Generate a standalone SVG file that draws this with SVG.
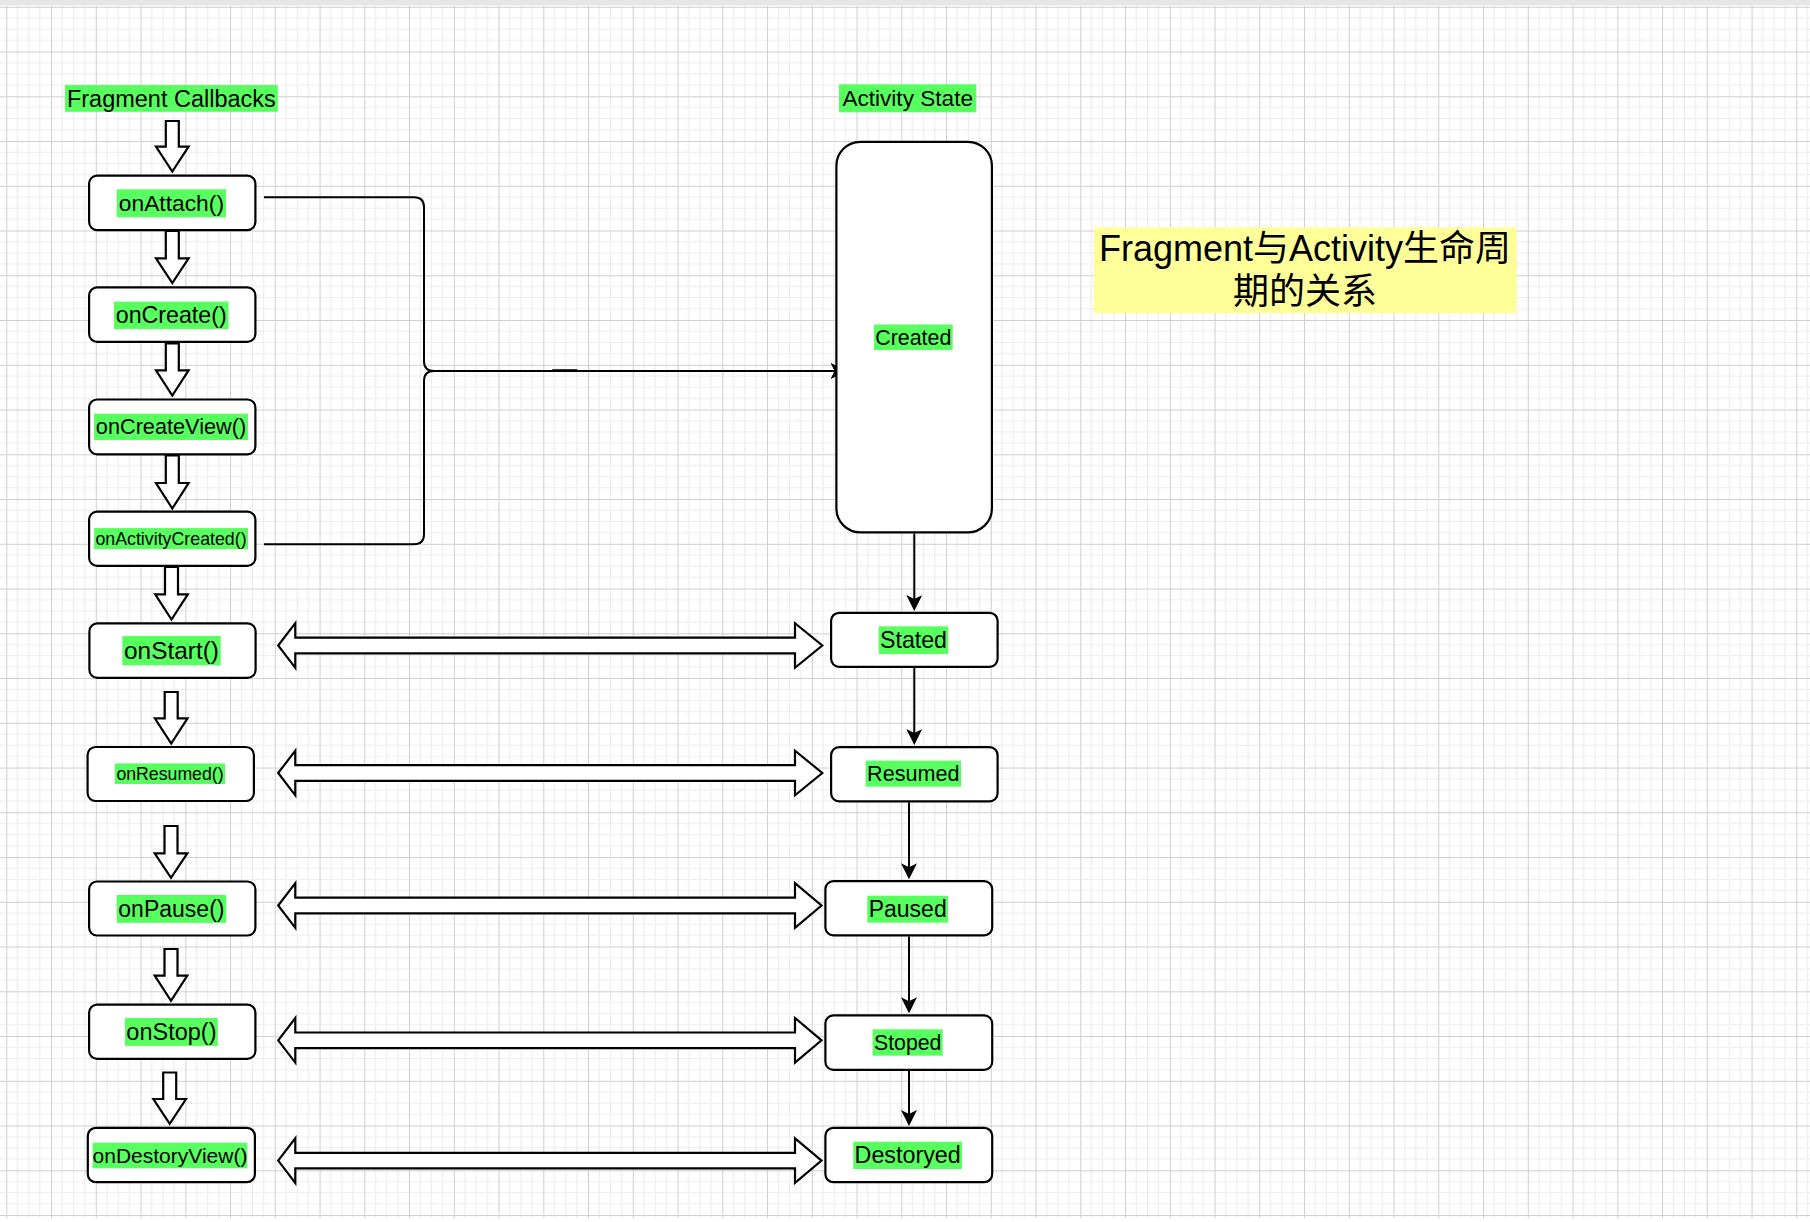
<svg xmlns="http://www.w3.org/2000/svg" width="1810" height="1222" viewBox="0 0 1810 1222">
<style>
.box{fill:#ffffff;stroke:#000000;stroke-width:2.2}
.blk{fill:#ffffff;stroke:#000000;stroke-width:2.2;stroke-linejoin:miter}
.edge{fill:none;stroke:#000000;stroke-width:2}
.hl{fill:#57ff5f}
.lbl{font-family:"Liberation Sans",Arial,Helvetica,sans-serif;fill:#000000;text-anchor:middle}
.title{font-family:"Liberation Sans","Noto Sans CJK SC",sans-serif;font-size:36px;fill:#000000;text-anchor:middle}
</style>
<defs>
<pattern id="grid" x="6.3" y="6.8" width="44.75" height="44.75" patternUnits="userSpaceOnUse">
<path d="M11.19 0V44.75M22.38 0V44.75M33.56 0V44.75M0 11.19H44.75M0 22.38H44.75M0 33.56H44.75" stroke="#ededed" stroke-width="1.2" fill="none"/>
<path d="M0.5 0V44.75M0 0.5H44.75" stroke="#cfcfcf" stroke-width="1" fill="none"/>
</pattern>
<marker id="arr" viewBox="0 0 16 16" refX="4" refY="8" markerWidth="16" markerHeight="16" markerUnits="userSpaceOnUse" orient="auto">
<path d="M0 0L16 8L0 16L4 8Z" fill="#000000"/>
</marker>
</defs>
<rect x="0" y="0" width="1810" height="1222" fill="#ffffff"/>
<rect x="0" y="6" width="1810" height="1212" fill="url(#grid)"/>
<rect x="0" y="0" width="1810" height="5.5" fill="#e6e6e6"/>

<g id="connectors">
<path class="edge" d="M264 197.3H414Q424 197.3 424 207.3V361Q424 371 434 371H834.7" marker-end="url(#arr)"/>
<path class="edge" d="M264 544.2H414Q424 544.2 424 534.2V381Q424 371 434 371H834.7" marker-end="url(#arr)"/>
<path class="edge" d="M552.3 370.2H577.3"/>
<path class="edge" d="M914.3 533.5V599" marker-end="url(#arr)"/>
<path class="edge" d="M914.3 667.7V733" marker-end="url(#arr)"/>
<path class="edge" d="M909 802.3V867.3" marker-end="url(#arr)"/>
<path class="edge" d="M909 936.5V1001.3" marker-end="url(#arr)"/>
<path class="edge" d="M909 1071V1114" marker-end="url(#arr)"/>
<polygon class="blk" points="165.8,121 178.8,121 178.8,146.7 188.6,146.7 172.3,171.5 156,146.7 165.8,146.7"/>
<polygon class="blk" points="165.8,231 178.8,231 178.8,258.3 188.6,258.3 172.3,283 156,258.3 165.8,258.3"/>
<polygon class="blk" points="165.8,343.3 178.8,343.3 178.8,370.4 188.6,370.4 172.3,395.5 156,370.4 165.8,370.4"/>
<polygon class="blk" points="165.8,455.4 178.8,455.4 178.8,483 188.6,483 172.3,508.5 156,483 165.8,483"/>
<polygon class="blk" points="165,567 178,567 178,594.3 187.8,594.3 171.5,619.5 155.2,594.3 165,594.3"/>
<polygon class="blk" points="164.7,692 177.7,692 177.7,718.4 187.5,718.4 171.2,743.5 154.9,718.4 164.7,718.4"/>
<polygon class="blk" points="164.5,826 177.5,826 177.5,853.4 187.3,853.4 171,877.8 154.7,853.4 164.5,853.4"/>
<polygon class="blk" points="164.5,949 177.5,949 177.5,975.6 187.3,975.6 171,1000.8 154.7,975.6 164.5,975.6"/>
<polygon class="blk" points="163.2,1072.5 176.2,1072.5 176.2,1099 186,1099 169.7,1123.8 153.4,1099 163.2,1099"/>
<polygon class="blk" points="278.2,645.5 295.3,623.2 295.3,637.7 795,637.7 795,623.2 822.3,645.5 795,667.8 795,653.3 295.3,653.3 295.3,667.8"/>
<polygon class="blk" points="278.2,773 295.3,750.7 295.3,765.2 795,765.2 795,750.7 822.3,773 795,795.3 795,780.8 295.3,780.8 295.3,795.3"/>
<polygon class="blk" points="278.2,905.5 295.3,883.2 295.3,897.7 795,897.7 795,883.2 821.5,905.5 795,927.8 795,913.3 295.3,913.3 295.3,927.8"/>
<polygon class="blk" points="278.2,1040.3 295.3,1018 295.3,1032.5 795,1032.5 795,1018 821.5,1040.3 795,1062.6 795,1048.1 295.3,1048.1 295.3,1062.6"/>
<polygon class="blk" points="278.2,1160.6 295.3,1138.3 295.3,1152.8 795,1152.8 795,1138.3 821.5,1160.6 795,1182.9 795,1168.4 295.3,1168.4 295.3,1182.9"/>
</g>

<g id="label-fragment-callbacks">
<rect class="hl" x="65" y="85" width="212.8" height="26.8"/>
<text class="lbl" x="171.4" y="106.5" font-size="23.5">Fragment Callbacks</text>
</g>
<g id="label-activity-state">
<rect class="hl" x="839" y="84.3" width="137.3" height="28"/>
<text class="lbl" x="907.7" y="106.1" font-size="22.6">Activity State</text>
</g>

<g id="onAttach">
<rect class="box" x="89.1" y="175.6" width="166.3" height="54.5" rx="8"/>
<rect class="hl" x="116.7" y="189.3" width="109.3" height="28"/>
<text class="lbl" x="171.4" y="211.2" font-size="22.8">onAttach()</text>
</g>
<g id="onCreate">
<rect class="box" x="89.1" y="287.4" width="166.3" height="54.5" rx="8"/>
<rect class="hl" x="114" y="301.6" width="114.5" height="27.5"/>
<text class="lbl" x="171.2" y="323.3" font-size="23.2">onCreate()</text>
</g>
<g id="onCreateView">
<rect class="box" x="89.1" y="399.5" width="166.3" height="54.8" rx="8"/>
<rect class="hl" x="94.1" y="413.7" width="153.9" height="26.4"/>
<text class="lbl" x="171" y="434.4" font-size="21.7">onCreateView()</text>
</g>
<g id="onActivityCreated">
<rect class="box" x="89.1" y="511.6" width="166.3" height="54.3" rx="8"/>
<rect class="hl" x="94.1" y="528.1" width="153.9" height="21.1"/>
<text class="lbl" x="171" y="544.8" font-size="17.8">onActivityCreated()</text>
</g>
<g id="onStart">
<rect class="box" x="89.4" y="623.4" width="166.2" height="54.5" rx="8"/>
<rect class="hl" x="122.3" y="636" width="98.4" height="29.3"/>
<text class="lbl" x="171.5" y="659.1" font-size="24.4">onStart()</text>
</g>
<g id="onResumed">
<rect class="box" x="87.6" y="747" width="166.3" height="54" rx="8"/>
<rect class="hl" x="114.8" y="763.4" width="110.2" height="20.6"/>
<text class="lbl" x="170" y="779.8" font-size="17.7">onResumed()</text>
</g>
<g id="onPause">
<rect class="box" x="89.1" y="881.5" width="166.3" height="54" rx="8"/>
<rect class="hl" x="116.7" y="895" width="109.5" height="27.9"/>
<text class="lbl" x="171.4" y="917" font-size="23">onPause()</text>
</g>
<g id="onStop">
<rect class="box" x="89.1" y="1004.6" width="166.3" height="54.3" rx="8"/>
<rect class="hl" x="125" y="1018" width="92.8" height="27.9"/>
<text class="lbl" x="171.4" y="1040.1" font-size="23.5">onStop()</text>
</g>
<g id="onDestoryView">
<rect class="box" x="87.8" y="1127.8" width="167.1" height="54.4" rx="8"/>
<rect class="hl" x="92.7" y="1142.7" width="154.6" height="25.6"/>
<text class="lbl" x="170" y="1162.8" font-size="21">onDestoryView()</text>
</g>

<g id="Created">
<rect class="box" x="836.4" y="141.8" width="155.5" height="390.6" rx="24"/>
<rect class="hl" x="874" y="324.5" width="78.7" height="25.5"/>
<text class="lbl" x="913.3" y="344.7" font-size="21.4">Created</text>
</g>
<g id="Stated">
<rect class="box" x="831.1" y="612.8" width="166.5" height="54" rx="8"/>
<rect class="hl" x="878.7" y="626.3" width="69.6" height="27.7"/>
<text class="lbl" x="913.5" y="648.2" font-size="23.2">Stated</text>
</g>
<g id="Resumed">
<rect class="box" x="831.1" y="747.1" width="166.5" height="54.2" rx="8"/>
<rect class="hl" x="865.7" y="760.7" width="95.3" height="26"/>
<text class="lbl" x="913.3" y="781.2" font-size="21.6">Resumed</text>
</g>
<g id="Paused">
<rect class="box" x="825.4" y="881.1" width="166.8" height="54.3" rx="8"/>
<rect class="hl" x="867.3" y="895.7" width="80.7" height="27"/>
<text class="lbl" x="907.7" y="917.2" font-size="23">Paused</text>
</g>
<g id="Stoped">
<rect class="box" x="825.4" y="1015.4" width="166.8" height="54.5" rx="8"/>
<rect class="hl" x="872.7" y="1029.3" width="70" height="26.4"/>
<text class="lbl" x="907.7" y="1049.9" font-size="21.3">Stoped</text>
</g>
<g id="Destoryed">
<rect class="box" x="825.4" y="1127.8" width="166.8" height="54.4" rx="8"/>
<rect class="hl" x="853.3" y="1141.7" width="108.7" height="27.3"/>
<text class="lbl" x="907.7" y="1163.4" font-size="23.3">Destoryed</text>
</g>

<g id="title">
<rect x="1094" y="227.3" width="422.7" height="86" fill="#ffff99"/>
<text class="title" x="1305" y="261">Fragment与Activity生命周</text>
<text class="title" x="1305" y="304">期的关系</text>
</g>
</svg>
